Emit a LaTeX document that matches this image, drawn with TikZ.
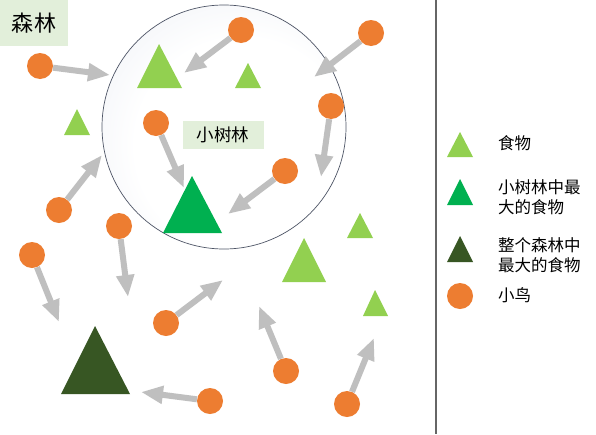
\documentclass[tikz,border=0pt]{standalone}
\usepackage{fontspec}
\setmainfont{Noto Sans CJK SC}
\usetikzlibrary{arrows.meta}
\definecolor{bird}{HTML}{ED7D31}
\definecolor{food}{HTML}{92D050}
\definecolor{grovebig}{HTML}{00B050}
\definecolor{forestbig}{HTML}{375623}
\definecolor{arrowgray}{HTML}{BFBFBF}
\definecolor{labelbg}{HTML}{E2EFDA}
\definecolor{ringline}{HTML}{4E5566}
\definecolor{ringfill}{HTML}{E3E7F0}
\pgfdeclareradialshading{ringshade}{\pgfpoint{6bp}{-6bp}}{color(0bp)=(white); color(22bp)=(white); color(48bp)=(ringfill); color(60bp)=(ringfill)}
\begin{document}
\begin{tikzpicture}[x=1pt,y=-1pt,
  birdnode/.style={circle,fill=bird,minimum size=26pt,inner sep=0pt},
  flyarrow/.style={draw=arrowgray,line width=6pt,-{Triangle[width=17pt,length=22pt]}},
  labelbox/.style={fill=labelbg,inner sep=0pt,text=black},
  legendtext/.style={anchor=west,align=left,font=\fontsize{16.5}{20}\selectfont,inner sep=0pt}]
\useasboundingbox (0,0) rectangle (596,434);
\fill[white] (0,0) rectangle (596,434);
% forest label
\node[labelbox,minimum width=68pt,minimum height=46pt,font=\fontsize{22}{26}\selectfont] (forest) at (34,23) {森林};
% grove circle
\shade[shading=ringshade] (224,127) circle[radius=122pt];
\draw[ringline,line width=0.7pt] (224,127) circle[radius=122pt];
\node[labelbox,minimum width=81pt,minimum height=28pt,font=\fontsize{17.5}{21}\selectfont] (grove) at (223,135) {小树林};
% food triangles
\fill[food] (137,88) -- (182,88) -- (159,44) -- cycle;
\fill[food] (235,88) -- (261,88) -- (248,63) -- cycle;
\fill[food] (64,135) -- (90,135) -- (77,109) -- cycle;
\fill[food] (347,238) -- (373,238) -- (360,213) -- cycle;
\fill[food] (282,282) -- (326,282) -- (304,238) -- cycle;
\fill[food] (363,316) -- (388,316) -- (375,290) -- cycle;
\fill[grovebig] (163,233) -- (222,233) -- (192,176) -- cycle;
\fill[forestbig] (61,394) -- (130,394) -- (95,326) -- cycle;
% arrow tips
\coordinate (ta) at (110,75);
\coordinate (tb) at (184,73);
\coordinate (tc) at (314,77);
\coordinate (td) at (321,177);
\coordinate (te) at (184,188);
\coordinate (tf) at (228,214);
\coordinate (tg) at (102,155);
\coordinate (th) at (128,297);
\coordinate (ti) at (59,322);
\coordinate (tj) at (223,280);
\coordinate (tk) at (141,392);
\coordinate (tl) at (259,306);
\coordinate (tm) at (374,338);
% birds
\node[birdnode] (a) at (40,66) {};
\node[birdnode] (b) at (241,30) {};
\node[birdnode] (c) at (371,33) {};
\node[birdnode] (d) at (331,106) {};
\node[birdnode] (e) at (156,123) {};
\node[birdnode] (f) at (285,171) {};
\node[birdnode] (g) at (59,210) {};
\node[birdnode] (h) at (119,226) {};
\node[birdnode] (i) at (32,255) {};
\node[birdnode] (j) at (166,323) {};
\node[birdnode] (k) at (210,401) {};
\node[birdnode] (l) at (286,371) {};
\node[birdnode] (m) at (347,404) {};
% arrows
\foreach \s in {a,b,c,d,e,f,g,h,i,j,k,l,m}{\draw[flyarrow] (\s) -- (t\s);}
% divider
\draw[gray!80!black,line width=1.2pt] (436,0) -- (436,434);
% legend
\fill[food] (447,157) -- (473,157) -- (460,132) -- cycle;
\node[legendtext] (l1) at (498,143) {食物};
\fill[grovebig] (447,205) -- (473,205) -- (460,179) -- cycle;
\node[legendtext] (l2) at (498,197) {小树林中最\\大的食物};
\fill[forestbig] (447,262) -- (473,262) -- (460,236) -- cycle;
\node[legendtext] (l3) at (498,255) {整个森林中\\最大的食物};
\node[birdnode] (lb) at (460,296) {};
\node[legendtext] (l4) at (498,295) {小鸟};
\end{tikzpicture}
\end{document}
